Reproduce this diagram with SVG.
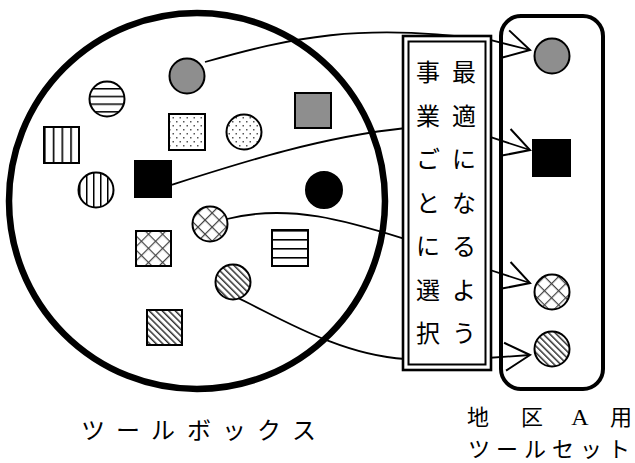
<svg xmlns="http://www.w3.org/2000/svg" width="635" height="463" viewBox="0 0 635 463">
<style>
.sh{stroke:#000;stroke-width:2}
.gray{fill:#8e8e8e}
.conn{fill:none;stroke:#000;stroke-width:1.8;marker-end:url(#arr)}
.jp{font-family:"Noto Sans CJK JP","Noto Sans",sans-serif;font-size:24px;fill:#000}
.lbl{font-size:22px}
</style>
<defs>
<marker id="arr" markerUnits="userSpaceOnUse" viewBox="-30 -16 32 32" markerWidth="32" markerHeight="32" refX="0" refY="0" orient="auto" overflow="visible">
<path d="M-25,-14 L0,0 L-25,14" fill="none" stroke="#000" stroke-width="2"/>
</marker>
<pattern id="dots" width="7" height="8" patternUnits="userSpaceOnUse"><rect width="7" height="8" fill="#fff"/><rect x="1" y="1" width="1.5" height="1.5" fill="#555"/><rect x="4.5" y="5" width="1.5" height="1.5" fill="#555"/></pattern>
<pattern id="hsq" x="0" y="230" width="10" height="9" patternUnits="userSpaceOnUse"><rect width="10" height="9" fill="#fff"/><rect width="10" height="1.6" fill="#000"/></pattern>
<pattern id="hci" x="0" y="88" width="10" height="7.7" patternUnits="userSpaceOnUse"><rect width="10" height="7.7" fill="#fff"/><rect width="10" height="1.5" fill="#000"/></pattern>
<pattern id="vsq" x="44" y="0" width="8.75" height="10" patternUnits="userSpaceOnUse"><rect width="8.75" height="10" fill="#fff"/><rect width="1.6" height="10" fill="#000"/></pattern>
<pattern id="vci" x="86" y="0" width="7" height="10" patternUnits="userSpaceOnUse"><rect width="7" height="10" fill="#fff"/><rect width="1.5" height="10" fill="#000"/></pattern>
<pattern id="diag" width="4.6" height="10" patternUnits="userSpaceOnUse" patternTransform="rotate(-45)"><rect width="4.6" height="10" fill="#fff"/><rect width="1.5" height="10" fill="#333"/></pattern>
<pattern id="cross" width="10" height="10" patternUnits="userSpaceOnUse" patternTransform="rotate(45)"><rect width="10" height="10" fill="#fff"/><rect width="1.2" height="10" fill="#444"/><rect width="10" height="1.2" fill="#444"/></pattern>
</defs>
<rect width="635" height="463" fill="#fff"/>

<g id="toolbox">
<circle cx="197" cy="201" r="188" fill="none" stroke="#000" stroke-width="6.5"/>
<text class="jp" x="93 128 163 199 234 269 304" y="439" text-anchor="middle">ツールボックス</text>
</g>
<g id="tb-gray-circle"><circle class="sh gray" cx="187" cy="76" r="17.5"/></g>
<g id="tb-hstripe-circle"><circle class="sh" cx="107" cy="99" r="17.5" fill="url(#hci)"/></g>
<g id="tb-dot-square"><rect class="sh" x="169" y="114" width="36" height="36" fill="url(#dots)"/></g>
<g id="tb-dot-circle"><circle class="sh" cx="244" cy="132" r="17.5" fill="url(#dots)"/></g>
<g id="tb-vstripe-square"><rect class="sh" x="44" y="127" width="35" height="36" fill="url(#vsq)"/></g>
<g id="tb-vstripe-circle"><circle class="sh" cx="96" cy="190" r="17.5" fill="url(#vci)"/></g>
<g id="tb-black-square"><rect class="sh" x="135" y="161" width="36" height="36" fill="#000"/></g>
<g id="tb-gray-square"><rect class="sh gray" x="295" y="93" width="36" height="35"/></g>
<g id="tb-black-circle"><circle class="sh" cx="324" cy="190" r="18" fill="#000"/></g>
<g id="tb-cross-circle"><circle class="sh" cx="210" cy="224" r="17.5" fill="url(#cross)"/></g>
<g id="tb-cross-square"><rect class="sh" x="136" y="231" width="35" height="35" fill="url(#cross)"/></g>
<g id="tb-hstripe-square"><rect class="sh" x="272" y="230" width="36" height="36" fill="url(#hsq)"/></g>
<g id="tb-diag-circle"><circle class="sh" cx="233" cy="282" r="17.5" fill="url(#diag)"/></g>
<g id="tb-diag-square"><rect class="sh" x="147" y="310" width="35" height="35" fill="url(#diag)"/></g>

<g id="connectors">
<path class="conn" d="M205,62 C290,38 360,22 490,40 L530,50"/>
<path class="conn" d="M171,185 C240,163 320,137 406,128 L487,136 L530,150"/>
<path class="conn" d="M227,219 C290,203 350,222 405,239 L487,269 L530,283"/>
<path class="conn" d="M238,298 C280,318 340,355 405,359 L487,358 L530,355"/>
</g>

<g id="selector">
<rect x="403" y="36" width="88" height="334" fill="#fff" stroke="#000" stroke-width="2.6"/>
<rect x="408.5" y="41.5" width="77" height="323" fill="none" stroke="#000" stroke-width="2"/>
<text class="jp" text-anchor="middle" x="428 428 428 428 428 428 428" y="81 124.5 168 211.5 255 298.5 342">事業ごとに選択</text>
<text class="jp" text-anchor="middle" x="464 464 464 464 464 464 464" y="81 124.5 168 211.5 255 298.5 342">最適になるよう</text>
</g>

<g id="toolset">
<rect x="501" y="16" width="102" height="373" rx="20" ry="20" fill="none" stroke="#000" stroke-width="4"/>
<text class="jp lbl" x="478 532 580 621" y="425" text-anchor="middle">地区<tspan font-family="Liberation Serif, serif" font-size="24">A</tspan>用</text>
<text class="jp lbl" x="479 507 535 563 591 619" y="457" text-anchor="middle">ツールセット</text>
</g>
<g id="ts-gray-circle"><circle class="sh gray" cx="552" cy="56" r="17.5"/></g>
<g id="ts-black-square"><rect class="sh" x="533" y="140" width="37" height="36" fill="#000"/></g>
<g id="ts-cross-circle"><circle class="sh" cx="552" cy="292" r="17.5" fill="url(#cross)"/></g>
<g id="ts-diag-circle"><circle class="sh" cx="552" cy="349" r="17.5" fill="url(#diag)"/></g>
</svg>
